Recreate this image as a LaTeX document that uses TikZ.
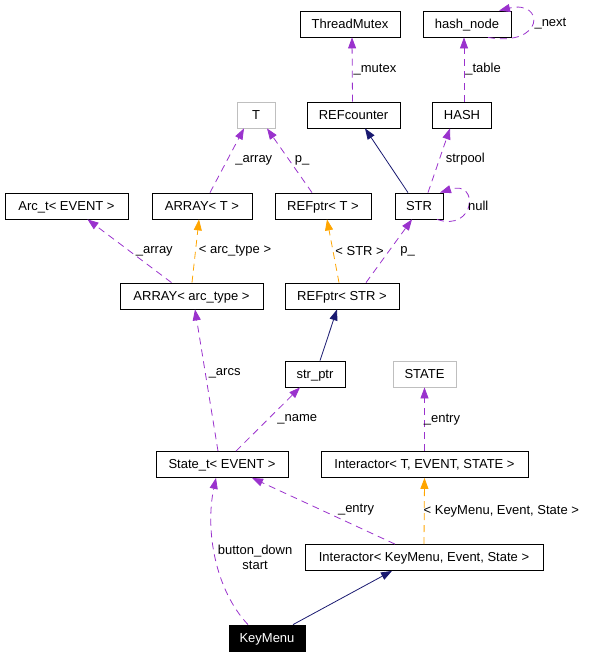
\documentclass[tikz,border=0pt]{standalone}
\usepackage{fontspec}
\setmainfont{Liberation Sans}
\usepackage{tikz}
\usetikzlibrary{arrows.meta}

\definecolor{dxpurple}{HTML}{9A32CD}
\definecolor{dxorange}{HTML}{FFA500}
\definecolor{dxnavy}{HTML}{191970}
\definecolor{dxgray}{HTML}{BFBFBF}

\begin{document}
\begin{tikzpicture}[->,>={Triangle[length=11pt,width=8pt]},x=1pt,y=-1pt,line width=0.8pt,
	font=\fontsize{13}{15}\selectfont,
	cls/.style={draw=black,rectangle,minimum height=26pt,inner sep=2pt,text height=9pt,text depth=1pt},
	undoc/.style={cls,draw=dxgray},
	curcls/.style={cls,fill=black,text=white},
	member/.style={dxpurple,dash pattern=on 7pt off 5pt},
	tmpl/.style={dxorange,dash pattern=on 7pt off 5pt},
	inherit/.style={dxnavy},
	lbl/.style={anchor=west,inner sep=0pt,text=black}]

			\useasboundingbox (0,0) rectangle (589,656);

			\node[cls,minimum width=100pt]   (tmutex)  at (350,24)      {ThreadMutex};
			\node[cls,minimum width=88pt]    (hnode)   at (467,24)      {hash\_node};
			\node[undoc,minimum width=38pt]  (tparam)  at (256,115)     {T};
			\node[cls,minimum width=93pt]    (refc)    at (353.5,115)   {REFcounter};
			\node[cls,minimum width=59pt]    (hash)    at (462,115)     {HASH};
			\node[cls,minimum width=123pt]   (arct)    at (66.5,206)    {Arc\_t< EVENT >};
			\node[cls,minimum width=100pt]   (arrT)    at (202,206)     {ARRAY< T >};
			\node[cls,minimum width=96pt]    (refT)    at (323,206)     {REFptr< T >};
			\node[cls,minimum width=48pt]    (str)     at (419,206)     {STR};
			\node[cls,minimum width=143pt]   (arrA)    at (191.5,296)   {ARRAY< arc\_type >};
			\node[cls,minimum width=114pt]   (refS)    at (342,296)     {REFptr< STR >};
			\node[cls,minimum width=60pt]    (strp)    at (315,374)     {str\_ptr};
			\node[undoc,minimum width=63pt]  (state)   at (424.5,374)   {STATE};
			\node[cls,minimum width=132pt]   (statet)  at (222,464.5)   {State\_t< EVENT >};
			\node[cls,minimum width=207pt]   (interT)  at (424.5,464.5) {Interactor< T, EVENT, STATE >};
			\node[cls,minimum width=238pt]   (interK)  at (424,557.5)   {Interactor< KeyMenu, Event, State >};
			\node[curcls,minimum width=76pt] (keymenu) at (267,638)     {KeyMenu};

			\path ([xshift=-1pt]refc.north)  edge[member] node[lbl,pos=0.5,xshift=1pt]  {\_mutex} ([xshift=2pt]tmutex.south);
			\path ([xshift=2pt]hash.north)   edge[member] node[lbl,pos=0.5,xshift=1pt]  {\_table} ([xshift=-3pt]hnode.south);
			\draw[member] ([xshift=21pt]hnode.south) .. controls +(57,10) and +(46,-11) .. ([xshift=32pt]hnode.north)
				node[lbl,pos=0.5,xshift=2pt] {\_next};

			\path ([xshift=-11pt]str.north)  edge[inherit] ([xshift=11.5pt]refc.south);
			\path ([xshift=9pt]str.north)    edge[member] node[lbl,pos=0.52,xshift=6pt] {strpool} ([xshift=-12pt]hash.south);
			\draw[member] ([xshift=18pt]str.south) .. controls +(38,13) and +(40,-13) .. ([xshift=21pt]str.north)
				node[lbl,pos=0.5,xshift=0pt] {null};

			\path ([xshift=8pt]arrT.north)   edge[member] node[lbl,pos=0.5,xshift=8pt]  {\_array} ([xshift=-12pt]tparam.south);
			\path ([xshift=-11pt]refT.north) edge[member] node[lbl,pos=0.5,xshift=5pt]  {p\_} ([xshift=11pt]tparam.south);
			\path ([xshift=-20pt]arrA.north) edge[member] node[lbl,pos=0.5,xshift=6pt]  {\_array} ([xshift=21pt]arct.south);
			\path ([xshift=0.5pt]arrA.north) edge[tmpl]   node[lbl,pos=0.5,xshift=3pt]  {< arc\_type >} ([xshift=-3pt]arrT.south);
			\path ([xshift=-3pt]refS.north)  edge[tmpl]   node[lbl,pos=0.5,xshift=2pt]  {< STR >} ([xshift=4pt]refT.south);
			\path ([xshift=24pt]refS.north)  edge[member] node[lbl,pos=0.5,xshift=11pt] {p\_} ([xshift=-7pt]str.south);
			\path ([xshift=5pt]strp.north)   edge[inherit] ([xshift=-5pt]refS.south);

			\path ([xshift=-4pt]statet.north) edge[member] node[lbl,pos=0.55,xshift=3pt] {\_arcs} ([xshift=3.5pt]arrA.south);
			\path ([xshift=14pt]statet.north) edge[member] node[lbl,pos=0.5,xshift=9pt]  {\_name} ([xshift=-15pt]strp.south);
			\path (interT.north)              edge[member] node[lbl,pos=0.5,xshift=-1pt] {\_entry} (state.south);
			\path ([xshift=-29pt]interK.north) edge[member] node[lbl,pos=0.52,xshift=17pt] {\_entry} ([xshift=30pt]statet.south);
			\path (interK.north)              edge[tmpl]   node[lbl,pos=0.5,xshift=-1pt] {< KeyMenu, Event, State >} (interT.south);

			\draw[member] ([xshift=-19pt]keymenu.north) .. controls +(-33,-35) and +(-11,52) .. ([xshift=-6pt]statet.south)
				node[lbl,pos=0.5,xshift=2pt,align=center] {button\_down\\start};
			\path ([xshift=26pt]keymenu.north) edge[inherit] ([xshift=-32pt]interK.south);
		\end{tikzpicture}
\end{document}
